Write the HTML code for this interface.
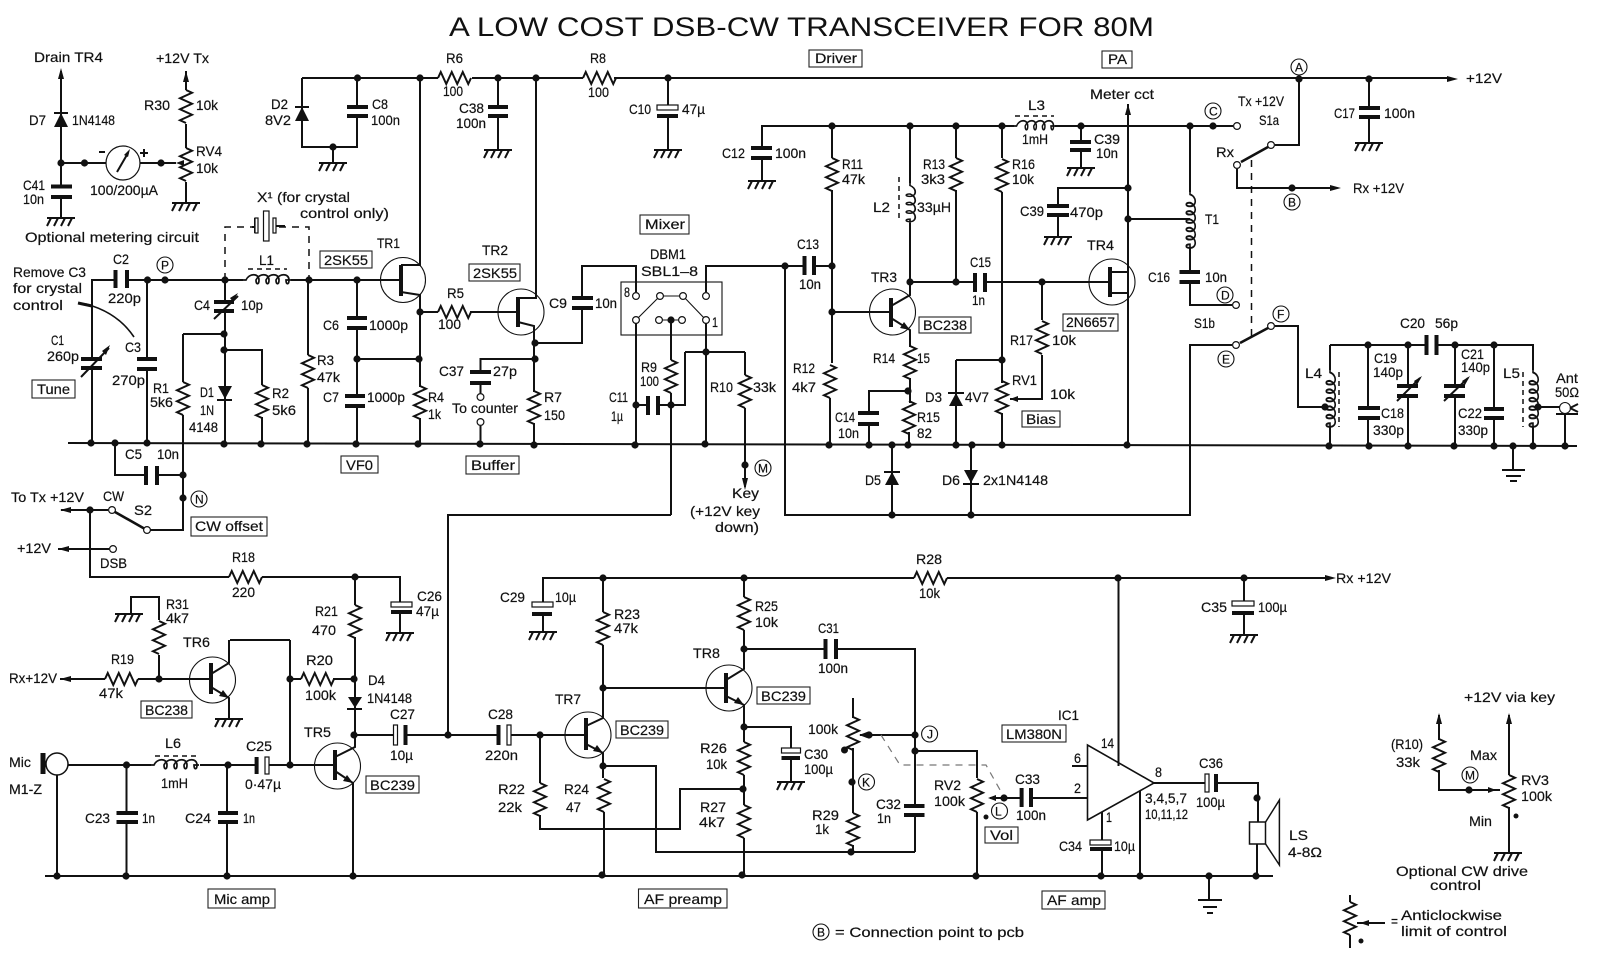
<!DOCTYPE html>
<html lang="en">
<head>
<meta charset="utf-8">
<title>A Low Cost DSB-CW Transceiver for 80M</title>
<style>
html,body{margin:0;padding:0;background:#fff}
svg{display:block;width:1600px;height:953px}
text{font-family:"Liberation Sans",sans-serif;font-size:14px;fill:#111;stroke:#111;stroke-width:.2}
.w{fill:none;stroke:#111;stroke-width:2;stroke-linejoin:miter}
.p{fill:none;stroke:#111;stroke-width:4}
.t{fill:none;stroke:#111;stroke-width:1.1}
.b{fill:#fff;stroke:#222;stroke-width:1.1}
.h{fill:#fff;stroke:#111;stroke-width:1.2}
.f{fill:#111;stroke:none}
.d{fill:none;stroke:#111;stroke-width:1.5;stroke-dasharray:7 6}
.g{fill:none;stroke:#777;stroke-width:1.2;stroke-dasharray:7 6}
.s{font-size:12px}
</style>
</head>
<body>
<svg xmlns="http://www.w3.org/2000/svg" width="1600" height="953" viewBox="0 0 1600 953">
<defs>
<path id="rv" class="w" d="M0 0l6 2.75-12 5.5 12 5.5-12 5.5 12 5.5-12 5.5 6 2.75"/>
<path id="rh" class="w" d="M0 0l2.75-6 5.5 12 5.5-12 5.5 12 5.5-12 5.5 12 2.75-6"/>
<path id="gd" class="w" d="M-14 0H14M-10 0l-4 8M-3 0l-4 8M4 0l-4 8M11 0l-4 8"/>
<circle id="n" class="f" r="3.6"/>
<circle id="o" class="h" r="3.4"/>
<circle id="lc" class="t" r="8"/>
<path id="au" class="f" d="M0 0l-3 11h6z"/>
<path id="ar" class="f" d="M0 0l-11-3v6z"/>
<path id="al" class="f" d="M0 0l11-3v6z"/>
<path id="c4" class="w" style="stroke-width:1.7" d="M0 0h3c3-7 13-7 13 0c0 5-3 5-3 0c3-7 13-7 13 0c0 5-3 5-3 0c3-7 13-7 13 0c0 5-3 5-3 0c3-7 13-7 13 0c0 5-3 5-3 0h5"/>
<path id="c6" class="w" style="stroke-width:1.6" d="M0 0h2c2-7 10-7 10 0c0 5-3 5-3 0c2-7 10-7 10 0c0 5-3 5-3 0c2-7 10-7 10 0c0 5-3 5-3 0c2-7 10-7 10 0c0 5-3 5-3 0c2-7 10-7 10 0c0 5-3 5-3 0c2-7 10-7 10 0c0 5-3 5-3 0h3"/>
</defs>

<text x="449" y="36" textLength="705" lengthAdjust="spacingAndGlyphs" style="font-size:27px;stroke:none">A LOW COST DSB-CW TRANSCEIVER FOR 80M</text>

<!-- wires -->
<path class="w" d="
M61 71V186M61 197V218M61 163H106M140 163H176M186 71V90M186 124V148M186 182V203
M302 78H438M472 78H583M614 78H1447M302 78V147H357V116M357 107V78M333 147V163
M498 78V107M498 116V150M668 78V105M668 118V150
M420 78V265H401M401 292L420 295V312M420 312H438M470 312H518M420 312V387M420 418V444
M536 78V298H518M518 322L534 326V392M534 423V445M534 343H582V308M582 298V266H636V292
M534 359H480.5V372M480.5 383V393M480.5 426V445
M92 443V368M92 359V280H115M127 280H243M291 280H401
M147 280V359M147 369V443M225 280V302M225 311V443
M183 334H225M183 334V382M183 415V530H147M225 350H262V385M262 417V443
M308 280V355M308 388V444M357 280V318M357 328V396M357 406V444M357 359H420
M115 443V475H146M157 475H183
M61 510H108M90 510V577H229M262 577H400V603M400 612V633M355 577V605M355 637V747L335 757M335 771L353 783V876
M58 549H109M151 530H183
M448 735V515H671M354 735H395M405 735H498M509 735H586M540 735V783M540 815V829H680V789H744
M586 726L603 718V645M603 612V578M586 744L603 753V778M604 812V875
M603 766H656V852H915M603 688H726
M744 578V597M744 630V669L726 680M726 696L744 705V742M744 775V805M744 838V875
M744 649H825M836 649H915V806M915 815V852M744 727H791V748M791 758V782
M853 698V718M853 748V813M853 845V852M860 735H915
M915 751H977V778M977 812V876M990 798H1021M1031 798H1087
M543 632V613M543 603V578H914M947 578H1332M1118.5 578V762M1072 766H1087M1102 812V841M1102 849V876M1140 789V876
M1154 783H1206M1216 783H1258V822M1257 844V876
M762 148V126H1014M1055 126H1233M762 158V181
M832 126V158M832 190V363M830 398V445M706 292V266H804M814 266H832M832 312H891
M785 266V515H1190V345H1232
M910 126V183M910 223V295L891 306M891 318L910 330V347M910 378V403M909 432V445M910 282H975M985 282H1110
M956 126V158M956 190V282M1002 126V158M1002 192V383M1002 413V445M956 360H1002M956 360V445
M1042 282V320M1042 355V399H1010M908 391H869V413M869 424V445M892 445V515M971 445V515
M1128 188H1058V206M1058 215V237M1081 126V142M1081 150V168M1128 104V445M1110 272H1128M1110 293H1128
M1190 126V192M1190 248V272M1190 282V305H1232M1128 219H1190
M1299 79V145H1275M1237 169V188H1337M1369 79V108M1369 117V143
M1275 326H1298V407H1325M1330 345V370M1330 427V445M1330 345H1426M1437 345H1533V370M1533 427V445
M1368 345V408M1368 418V445M1408 345V386M1408 396V445M1455 345V386M1455 396V445M1494 345V409M1494 418V445
M1513 445V470M1538 407H1560M1565 414V445
M745 352V375M745 408V487M685 352H745M685 352V405H671M706 320V445M636 320V445M636 405H648M658 405H671M671 320V360M671 393V515
M68 765H151M200 765H256M267 765H335M126.5 765V813M126.5 822V876M227 765V813M227 822V876M57 775V876
M290 640V765M230 640H290M229 640V663L211 674M211 687L229 698V719M290 679H301M333 679H354M60 679H105M138 679H211
M131 614V597H159V620M159 655V679
M1439 715V740M1439 770V790H1500M1509 715V775M1509 807V853
M1350 895V902M1350 935V948M1357 923H1385
"/>
<path class="w" d="M68 443L1577 446M45 876H1273"/>
<path class="t" d="M660 296H683L706 320M660 296L636 320M659 320H682"/>

<!-- resistors -->
<use href="#rv" x="186" y="90"/><use href="#rv" x="186" y="148"/>
<use href="#rh" x="438" y="78"/><use href="#rh" x="583" y="78"/><use href="#rh" x="438" y="312"/>
<use href="#rv" x="183" y="382"/><use href="#rv" x="262" y="385"/><use href="#rv" x="308" y="355"/><use href="#rv" x="420" y="386"/>
<use href="#rv" x="534" y="391"/><use href="#rv" x="671" y="360"/><use href="#rv" x="745" y="375"/>
<use href="#rv" x="832" y="158"/><use href="#rv" x="956" y="158"/><use href="#rv" x="1002" y="159"/>
<use href="#rv" x="830" y="365"/><use href="#rv" x="910" y="346"/><use href="#rv" x="909" y="401"/><use href="#rv" x="1042" y="321"/><use href="#rv" x="1002" y="381"/>
<use href="#rh" x="229" y="577"/><use href="#rh" x="914" y="578"/><use href="#rh" x="105" y="679"/><use href="#rh" x="301" y="679"/>
<use href="#rv" x="159" y="621"/><use href="#rv" x="355" y="605"/><use href="#rv" x="603" y="612"/><use href="#rv" x="744" y="597"/>
<use href="#rv" x="540" y="783"/><use href="#rv" x="604" y="779"/><use href="#rv" x="744" y="742"/><use href="#rv" x="744" y="805"/>
<use href="#rv" x="853" y="717"/><use href="#rv" x="853" y="813"/><use href="#rv" x="977" y="779"/>
<use href="#rv" x="1439" y="739"/><use href="#rv" x="1509" y="775"/><use href="#rv" x="1350" y="902"/>

<!-- grounds -->
<use href="#gd" x="61" y="218"/><use href="#gd" x="186" y="203"/><use href="#gd" x="333" y="163"/><use href="#gd" x="498" y="150"/><use href="#gd" x="668" y="150"/>
<use href="#gd" x="762" y="181"/><use href="#gd" x="1058" y="237"/><use href="#gd" x="1081" y="168"/><use href="#gd" x="1369" y="143"/>
<use href="#gd" x="129" y="614"/><use href="#gd" x="400" y="633"/><use href="#gd" x="229" y="719"/><use href="#gd" x="543" y="632"/><use href="#gd" x="791" y="782"/><use href="#gd" x="1244" y="635"/><use href="#gd" x="1508" y="853"/>
<path class="w" d="M1244 578V603M1244 613V635"/>
<path class="w" d="M1502 470H1525M1506 476H1521M1510 481H1517M1198 900H1222M1203 907H1217M1207 913H1213M1209 876V900"/>

<!-- capacitors -->
<path class="p" d="M51 186.500H72M51 197H72M347 107H368M347 116H368M488 107H508M488 116H508M751 148H772M751 158H772M1070 142H1091M1070 150H1091M1047 206H1069M1047 215H1069M1359 108H1380M1359 117H1380
M115.500 270V288M127 270V288M81 359H102M81 368H102M137 359H157M137 369H157M214 302H234M214 311H234M347 318H367M347 328H367M345 396H365M345 406H365
M146 466V485M157 466V485M572 298H593M572 308H593M470 372H491M470 383H491M648 396V415M658 396V415M804.500 256V275M814 256V275M975 273V292M985 273V292M858 413H879M858 424H879M1179.500 272H1200M1179.500 282H1200
M1358 408H1380M1358 418H1380M1397 386H1418M1397 396H1418M1426.500 335V355M1436.500 335V355M1444 386H1465M1444 396H1465M1484 409H1504M1484 418H1504
M116.500 813H138M116.500 822H138M218 813H238M218 822H238M498.500 725V745M825.500 639V659M836 639V659M904 806H924.500M904 815H924.500M1021.600 788V807M1031 788V807
M657 116H678M532 614H552M391 612H412M256.600 757V774M405.500 725V745M781.500 758H800M1232 613H1254M1090 849H1112M1216 774V792"/>
<rect class="h" x="657" y="105" width="21" height="5"/><rect class="h" x="532" y="602" width="21" height="5"/><rect class="h" x="391" y="602" width="21" height="5"/>
<rect class="h" x="265" y="757" width="4" height="17"/><rect class="h" x="393.500" y="725" width="4" height="20"/><rect class="h" x="507" y="725" width="4" height="20"/><path class="p" d="M498.500 725V745"/>
<rect class="h" x="781.500" y="748" width="19" height="5"/><rect class="h" x="1232" y="601" width="22" height="5"/><rect class="h" x="1090" y="840" width="21" height="5"/><rect class="h" x="1205" y="774" width="4" height="18"/>

<!-- variable arrows -->
<path class="w" d="M81 377L109 348M214 319L238 296M1397 401L1420 378M1444 401L1468 378"/>
<path class="f" d="M110 345l-8 6 4 4zM238 293l-8 5 3 4zM1422 376l-8 5 3 4zM1470 376l-8 5 3 4z"/>
<path class="w" style="stroke-width:1.6" d="M86 304C108 310 124 322 134 337"/>
<path class="p" style="stroke-width:3" d="M78 303L92 306"/>

<!-- diodes -->
<path class="f" d="M61 113l-7 14h14zM302 107l-7 14h14zM225 399l-7-13h14zM956 393l-7 13h14zM892 472l-7 13h14zM971 483l-7-13h14zM355 708l-7-11h14z"/>
<path class="w" d="M54 113H68M295 107H309M217 400H232M948 393H964M884 472H900M963 484H979M347 709H362"/>

<!-- meter -->
<circle class="h" cx="123" cy="163" r="17"/>
<path class="w" d="M117 172L128 153"/><path class="f" d="M130 149l-6 6 4 2z"/>
<path class="w" d="M99 152H105M140 153h8M144 149v8"/>
<!-- crystal -->
<path class="d" d="M225 280V227H252M279 227H309V280"/>
<rect class="h" x="263.500" y="211" width="5.500" height="30"/>
<path class="w" d="M255 218V233M275 218V233M275 226H285M252 227H255"/>
<rect class="h" x="255" y="218" width="3" height="15"/><rect class="h" x="273" y="218" width="3" height="15"/>
<!-- inductors -->
<use href="#c4" transform="translate(243 280)"/>
<use href="#c4" transform="translate(1014 126) scale(.86 1)"/>
<use href="#c4" transform="translate(151 765)"/>
<use href="#c4" transform="translate(910 183) rotate(90) scale(.84 1)"/>
<use href="#c6" transform="translate(1190 192) rotate(90) scale(1.19 1)"/>
<use href="#c6" transform="translate(1330 370) rotate(90) scale(1.21 1)"/>
<use href="#c6" transform="translate(1533 370) rotate(90) scale(1.21 1)"/>
<path class="d" style="stroke-dasharray:5 4" d="M248 269H287M1015 116H1054M155 756H198M899 177V222M1339 372V427M1523 372V427"/>

<!-- transistors -->
<circle class="t" cx="403" cy="280" r="22.500"/><circle class="t" cx="521" cy="312" r="23"/><circle class="t" cx="892.500" cy="312" r="23"/><circle class="t" cx="1112" cy="282" r="23"/>
<circle class="t" cx="212.500" cy="680" r="23"/><circle class="t" cx="337.500" cy="766" r="23"/><circle class="t" cx="588" cy="735" r="23"/><circle class="t" cx="729" cy="688" r="23"/>
<path class="p" d="M401 265V296M518 297V327M891 298V327M1110 267V297M211 663V694M335 750V780M586 718V750M726 673V703"/>
<path class="f" d="M910 330l-10-2 4-6zM229 698l-10-2 4-6zM353 783l-10-2 4-6zM603 753l-10-2 4-6zM744 705l-10-2 4-6z"/>

<!-- mixer -->
<rect class="t" x="621" y="282" width="101" height="53"/>
<use href="#o" x="636" y="296"/><use href="#o" x="706" y="296"/><use href="#o" x="660" y="296"/><use href="#o" x="683" y="296"/><use href="#o" x="636" y="320"/><use href="#o" x="659" y="320"/><use href="#o" x="682" y="320"/><use href="#o" x="706" y="320"/>

<!-- switches -->
<path class="w" style="stroke-width:2.6" d="M1241 162L1268 147M1240 343L1268 328M115 512L145 529"/>
<path class="d" d="M1251.500 160V338"/>
<use href="#o" x="1237" y="126"/><use href="#o" x="1271" y="145"/><use href="#o" x="1237" y="165"/><use href="#o" x="1236" y="305"/><use href="#o" x="1236" y="345"/><use href="#o" x="1271" y="326"/>
<use href="#o" x="112" y="510"/><use href="#o" x="147" y="530"/><use href="#o" x="113" y="549"/><use href="#o" x="480.500" y="397"/><use href="#o" x="480.500" y="422"/>

<!-- volume dashed link -->
<path class="g" d="M881 735L900 765H986L1004 797"/>

<!-- IC and speaker -->
<path class="h" style="stroke-width:1.6" d="M1087.500 745V820L1154 783Z"/>
<path class="w" d="M1118.500 762V766"/>
<rect class="h" style="stroke-width:1.5" x="1249.500" y="822" width="16" height="22"/>
<path class="w" style="stroke-width:1.5" d="M1265.600 822L1279.400 800V865L1265.600 844"/>
<!-- mic, antenna -->
<circle class="h" style="stroke-width:1.5" cx="57" cy="764" r="11"/>
<path class="p" style="stroke-width:5" d="M43 753V774"/>
<circle class="t" cx="1565" cy="408" r="5.500"/>
<path class="w" d="M1556 414H1578M1570 408L1578 404M1570 408L1578 412"/>

<!-- arrowheads -->
<use href="#au" x="61" y="68"/><use href="#au" x="186" y="71"/><use href="#au" x="1128" y="104"/><use href="#au" x="1439" y="713"/><use href="#au" x="1509" y="713"/>
<use href="#ar" x="1458" y="79"/><use href="#ar" x="1341" y="188"/><use href="#ar" x="1336" y="578"/>
<use href="#al" x="60" y="510"/><use href="#al" x="58" y="549"/><use href="#al" x="60" y="679"/>
<path class="f" d="M745 490l-3-12h6zM176 163l8-3v6zM1010 399l8-3v6zM859 735l8-3v6zM988 798l8-3v6zM1496 790l-8-3v6zM1360 923l9-3v6z"/>
<circle class="f" cx="844.500" cy="750" r="3.500"/><circle class="f" cx="986" cy="817" r="2.500"/><circle class="f" cx="1516" cy="816" r="2.500"/><circle class="f" cx="1361" cy="941" r="2.500"/>

<!-- nodes -->
<g>
<use href="#n" x="61" y="163"/><use href="#n" x="84.500" y="163"/><use href="#n" x="161" y="163"/><use href="#n" x="357.500" y="78"/><use href="#n" x="420" y="78"/><use href="#n" x="498" y="78"/><use href="#n" x="536" y="78"/><use href="#n" x="668" y="78"/><use href="#n" x="333" y="147"/>
<use href="#n" x="147.500" y="280"/><use href="#n" x="165" y="280"/><use href="#n" x="225" y="280"/><use href="#n" x="309" y="280"/><use href="#n" x="357" y="280"/><use href="#n" x="420" y="312"/>
<use href="#n" x="224" y="334"/><use href="#n" x="224" y="350"/><use href="#n" x="357" y="359"/><use href="#n" x="419" y="359"/><use href="#n" x="535" y="343"/><use href="#n" x="535" y="359"/>
<use href="#n" x="91" y="443"/><use href="#n" x="115" y="443"/><use href="#n" x="147" y="443"/><use href="#n" x="224" y="444"/><use href="#n" x="261" y="444"/><use href="#n" x="307" y="444"/><use href="#n" x="356" y="444"/><use href="#n" x="418" y="444"/><use href="#n" x="480" y="444"/><use href="#n" x="534" y="445"/><use href="#n" x="635" y="445"/><use href="#n" x="705" y="444"/><use href="#n" x="829" y="445"/><use href="#n" x="869" y="445"/><use href="#n" x="892" y="445"/><use href="#n" x="908" y="445"/><use href="#n" x="956" y="445"/><use href="#n" x="972" y="445"/><use href="#n" x="1002" y="445"/><use href="#n" x="1127" y="445"/>
<use href="#n" x="1329" y="446"/><use href="#n" x="1369" y="446"/><use href="#n" x="1408" y="446"/><use href="#n" x="1454" y="446"/><use href="#n" x="1494" y="446"/><use href="#n" x="1513" y="446"/><use href="#n" x="1533" y="446"/><use href="#n" x="1565" y="446"/>
<use href="#n" x="183" y="475"/><use href="#n" x="183" y="498"/><use href="#n" x="90" y="510"/><use href="#n" x="355" y="577"/>
<use href="#n" x="636" y="405"/><use href="#n" x="671" y="405"/><use href="#n" x="671" y="320"/><use href="#n" x="745" y="465"/><use href="#n" x="892" y="515"/><use href="#n" x="971" y="515"/><use href="#n" x="706" y="352"/>
<use href="#n" x="785" y="266"/><use href="#n" x="832" y="266"/><use href="#n" x="832" y="126"/><use href="#n" x="910" y="126"/><use href="#n" x="956" y="126"/><use href="#n" x="1002" y="126"/><use href="#n" x="1081" y="126"/><use href="#n" x="1190" y="126"/><use href="#n" x="1213" y="126"/>
<use href="#n" x="832" y="312"/><use href="#n" x="910" y="282"/><use href="#n" x="956" y="282"/><use href="#n" x="1042" y="282"/><use href="#n" x="1002" y="360"/><use href="#n" x="908" y="391"/>
<use href="#n" x="1128" y="188"/><use href="#n" x="1128" y="219"/><use href="#n" x="1299" y="79"/><use href="#n" x="1369" y="79"/><use href="#n" x="1292" y="188"/>
<use href="#n" x="1368" y="345"/><use href="#n" x="1408" y="345"/><use href="#n" x="1455" y="345"/><use href="#n" x="1494" y="345"/><use href="#n" x="1325" y="407"/><use href="#n" x="1538" y="407"/>
<use href="#n" x="603" y="578"/><use href="#n" x="744" y="578"/><use href="#n" x="1118" y="578"/><use href="#n" x="1244" y="578"/>
<use href="#n" x="159" y="679"/><use href="#n" x="290" y="679"/><use href="#n" x="354" y="679"/><use href="#n" x="354" y="735"/><use href="#n" x="448" y="735"/><use href="#n" x="540" y="735"/><use href="#n" x="126.500" y="765"/><use href="#n" x="228" y="765"/><use href="#n" x="290" y="765"/>
<use href="#n" x="603" y="688"/><use href="#n" x="603" y="766"/><use href="#n" x="744" y="649"/><use href="#n" x="744" y="727"/><use href="#n" x="743" y="789"/><use href="#n" x="852" y="782"/><use href="#n" x="851" y="852"/><use href="#n" x="915" y="735"/><use href="#n" x="915" y="751"/><use href="#n" x="869" y="735"/><use href="#n" x="1004" y="798"/>
<use href="#n" x="57" y="876"/><use href="#n" x="126" y="876"/><use href="#n" x="227" y="876"/><use href="#n" x="353" y="876"/><use href="#n" x="602" y="875"/><use href="#n" x="742" y="875"/><use href="#n" x="976" y="876"/><use href="#n" x="1101" y="876"/><use href="#n" x="1140" y="876"/><use href="#n" x="1209" y="876"/><use href="#n" x="1256" y="876"/>
<use href="#n" x="1257" y="798"/><use href="#n" x="1469" y="790"/>
</g>

<!-- connection letters -->
<use href="#lc" x="165" y="265"/><text class="s" x="161" y="269.500">P</text>
<use href="#lc" x="1299" y="67"/><text class="s" x="1295" y="71.500">A</text>
<use href="#lc" x="1292" y="202"/><text class="s" x="1288" y="206.500">B</text>
<use href="#lc" x="1213" y="111"/><text class="s" x="1209" y="115.500">C</text>
<use href="#lc" x="1225" y="295"/><text class="s" x="1221" y="299.500">D</text>
<use href="#lc" x="1226" y="359"/><text class="s" x="1222" y="363.500">E</text>
<use href="#lc" x="1281" y="314"/><text class="s" x="1277" y="318.500">F</text>
<use href="#lc" x="199" y="499"/><text class="s" x="195" y="503.500">N</text>
<use href="#lc" x="763" y="468"/><text class="s" x="758" y="472.500">M</text>
<use href="#lc" x="929.600" y="734"/><text class="s" x="927" y="738.500">J</text>
<use href="#lc" x="866.500" y="782"/><text class="s" x="862" y="786.500">K</text>
<use href="#lc" x="999.500" y="811"/><text class="s" x="995" y="815.500">L</text>
<use href="#lc" x="1470" y="775"/><text class="s" x="1465" y="779.500">M</text>
<use href="#lc" x="821" y="932"/><text class="s" x="817" y="936.500">B</text>

<!-- boxed labels -->
<rect class="b" x="809" y="50" width="53" height="17"/><text x="815" y="63" textLength="42" lengthAdjust="spacingAndGlyphs">Driver</text>
<rect class="b" x="1102" y="51" width="30" height="17"/><text x="1108" y="64" textLength="19" lengthAdjust="spacingAndGlyphs">PA</text>
<rect class="b" x="640" y="215" width="49" height="19"/><text x="645" y="229" textLength="40" lengthAdjust="spacingAndGlyphs">Mixer</text>
<rect class="b" x="320" y="251" width="52" height="17"/><text x="324" y="265" textLength="44" lengthAdjust="spacingAndGlyphs">2SK55</text>
<rect class="b" x="469" y="264" width="51" height="17"/><text x="473" y="278" textLength="44" lengthAdjust="spacingAndGlyphs">2SK55</text>
<rect class="b" x="32" y="380" width="43" height="18"/><text x="37" y="394" textLength="33" lengthAdjust="spacingAndGlyphs">Tune</text>
<rect class="b" x="341" y="456" width="37" height="17"/><text x="346" y="470" textLength="27" lengthAdjust="spacingAndGlyphs">VF0</text>
<rect class="b" x="466" y="456" width="53" height="18"/><text x="471" y="470" textLength="44" lengthAdjust="spacingAndGlyphs">Buffer</text>
<rect class="b" x="191" y="517" width="76" height="19"/><text x="195" y="531" textLength="68" lengthAdjust="spacingAndGlyphs">CW offset</text>
<rect class="b" x="919" y="317" width="52" height="16"/><text x="923" y="330" textLength="44" lengthAdjust="spacingAndGlyphs">BC238</text>
<rect class="b" x="1063" y="314" width="55" height="17"/><text x="1066" y="327" textLength="49" lengthAdjust="spacingAndGlyphs">2N6657</text>
<rect class="b" x="1022" y="411" width="38" height="16"/><text x="1026" y="424" textLength="30" lengthAdjust="spacingAndGlyphs">Bias</text>
<rect class="b" x="141" y="701" width="51" height="17"/><text x="145" y="715" textLength="43" lengthAdjust="spacingAndGlyphs">BC238</text>
<rect class="b" x="366" y="776" width="53" height="17"/><text x="370" y="790" textLength="45" lengthAdjust="spacingAndGlyphs">BC239</text>
<rect class="b" x="616" y="721" width="52" height="17"/><text x="620" y="735" textLength="44" lengthAdjust="spacingAndGlyphs">BC239</text>
<rect class="b" x="757" y="687" width="53" height="17"/><text x="761" y="701" textLength="45" lengthAdjust="spacingAndGlyphs">BC239</text>
<rect class="b" x="1002" y="725" width="64" height="17"/><text x="1006" y="739" textLength="56" lengthAdjust="spacingAndGlyphs">LM380N</text>
<rect class="b" x="985" y="827" width="33" height="16"/><text x="990" y="840" textLength="23" lengthAdjust="spacingAndGlyphs">Vol</text>
<rect class="b" x="208" y="889" width="67" height="19"/><text x="214" y="904" textLength="56" lengthAdjust="spacingAndGlyphs">Mic amp</text>
<rect class="b" x="638.500" y="889" width="88.500" height="19"/><text x="644" y="904" textLength="78" lengthAdjust="spacingAndGlyphs">AF preamp</text>
<rect class="b" x="1042" y="891" width="63" height="18"/><text x="1047" y="905" textLength="54" lengthAdjust="spacingAndGlyphs">AF amp</text>

<!-- labels -->
<g>
<text x="34" y="62" textLength="69" lengthAdjust="spacingAndGlyphs">Drain TR4</text><text x="156" y="63" textLength="53" lengthAdjust="spacingAndGlyphs">+12V Tx</text>
<text x="144" y="110" textLength="26" lengthAdjust="spacingAndGlyphs">R30</text><text x="196" y="110" textLength="22" lengthAdjust="spacingAndGlyphs">10k</text><text x="196" y="156" textLength="26" lengthAdjust="spacingAndGlyphs">RV4</text><text x="196" y="173" textLength="22" lengthAdjust="spacingAndGlyphs">10k</text>
<text x="29" y="125" textLength="17" lengthAdjust="spacingAndGlyphs">D7</text><text x="72" y="125" textLength="43" lengthAdjust="spacingAndGlyphs">1N4148</text><text x="23" y="190" textLength="22" lengthAdjust="spacingAndGlyphs">C41</text><text x="23" y="204" textLength="21" lengthAdjust="spacingAndGlyphs">10n</text>
<text x="90" y="195" textLength="68" lengthAdjust="spacingAndGlyphs">100/200µA</text><text x="25" y="242" textLength="174" lengthAdjust="spacingAndGlyphs">Optional metering circuit</text>
<text x="257" y="202" textLength="93" lengthAdjust="spacingAndGlyphs">X¹ (for crystal</text><text x="300" y="218" textLength="89" lengthAdjust="spacingAndGlyphs">control only)</text>
<text x="113" y="264" textLength="16" lengthAdjust="spacingAndGlyphs">C2</text><text x="108" y="303" textLength="33" lengthAdjust="spacingAndGlyphs">220p</text><text x="259" y="265" textLength="15" lengthAdjust="spacingAndGlyphs">L1</text>
<text x="13" y="277" textLength="73" lengthAdjust="spacingAndGlyphs">Remove C3</text><text x="13" y="293" textLength="69" lengthAdjust="spacingAndGlyphs">for crystal</text><text x="13" y="310" textLength="50" lengthAdjust="spacingAndGlyphs">control</text>
<text x="194" y="310" textLength="16" lengthAdjust="spacingAndGlyphs">C4</text><text x="241" y="310" textLength="22" lengthAdjust="spacingAndGlyphs">10p</text><text x="377" y="248" textLength="23" lengthAdjust="spacingAndGlyphs">TR1</text><text x="482" y="255" textLength="26" lengthAdjust="spacingAndGlyphs">TR2</text><text x="447" y="298" textLength="17" lengthAdjust="spacingAndGlyphs">R5</text>
<text x="438" y="329" textLength="23" lengthAdjust="spacingAndGlyphs">100</text><text x="446" y="63" textLength="17" lengthAdjust="spacingAndGlyphs">R6</text><text x="443" y="96" textLength="20" lengthAdjust="spacingAndGlyphs">100</text>
<text x="271" y="109" textLength="17" lengthAdjust="spacingAndGlyphs">D2</text><text x="265" y="125" textLength="26" lengthAdjust="spacingAndGlyphs">8V2</text><text x="372" y="109" textLength="16" lengthAdjust="spacingAndGlyphs">C8</text><text x="371" y="125" textLength="29" lengthAdjust="spacingAndGlyphs">100n</text><text x="459" y="113" textLength="25" lengthAdjust="spacingAndGlyphs">C38</text><text x="456" y="128" textLength="30" lengthAdjust="spacingAndGlyphs">100n</text>
<text x="590" y="63" textLength="16" lengthAdjust="spacingAndGlyphs">R8</text><text x="588" y="97" textLength="21" lengthAdjust="spacingAndGlyphs">100</text><text x="629" y="114" textLength="22" lengthAdjust="spacingAndGlyphs">C10</text><text x="682" y="114" textLength="23" lengthAdjust="spacingAndGlyphs">47µ</text>
<text x="722" y="158" textLength="23" lengthAdjust="spacingAndGlyphs">C12</text><text x="775" y="158" textLength="31" lengthAdjust="spacingAndGlyphs">100n</text><text x="842" y="169" textLength="21" lengthAdjust="spacingAndGlyphs">R11</text><text x="842" y="184" textLength="23" lengthAdjust="spacingAndGlyphs">47k</text>
<text x="873" y="212" textLength="17" lengthAdjust="spacingAndGlyphs">L2</text><text x="917" y="212" textLength="34" lengthAdjust="spacingAndGlyphs">33µH</text><text x="923" y="169" textLength="22" lengthAdjust="spacingAndGlyphs">R13</text><text x="921" y="184" textLength="24" lengthAdjust="spacingAndGlyphs">3k3</text><text x="1012" y="169" textLength="23" lengthAdjust="spacingAndGlyphs">R16</text><text x="1012" y="184" textLength="22" lengthAdjust="spacingAndGlyphs">10k</text>
<text x="1028" y="110" textLength="17" lengthAdjust="spacingAndGlyphs">L3</text><text x="1022" y="144" textLength="26" lengthAdjust="spacingAndGlyphs">1mH</text><text x="1020" y="216" textLength="24" lengthAdjust="spacingAndGlyphs">C39</text><text x="1070" y="217" textLength="33" lengthAdjust="spacingAndGlyphs">470p</text>
<text x="650" y="259" textLength="36" lengthAdjust="spacingAndGlyphs">DBM1</text><text x="641" y="276" textLength="57" lengthAdjust="spacingAndGlyphs">SBL1–8</text><text x="624" y="297" textLength="6" lengthAdjust="spacingAndGlyphs">8</text><text x="712" y="327" textLength="6" lengthAdjust="spacingAndGlyphs">1</text>
<text x="797" y="249" textLength="22" lengthAdjust="spacingAndGlyphs">C13</text><text x="799" y="289" textLength="22" lengthAdjust="spacingAndGlyphs">10n</text><text x="871" y="282" textLength="26" lengthAdjust="spacingAndGlyphs">TR3</text><text x="970" y="267" textLength="21" lengthAdjust="spacingAndGlyphs">C15</text><text x="972" y="305" textLength="13" lengthAdjust="spacingAndGlyphs">1n</text>
<text x="1090" y="99" textLength="64" lengthAdjust="spacingAndGlyphs">Meter cct</text><text x="1094" y="144" textLength="26" lengthAdjust="spacingAndGlyphs">C39</text><text x="1096" y="158" textLength="22" lengthAdjust="spacingAndGlyphs">10n</text><text x="1087" y="250" textLength="27" lengthAdjust="spacingAndGlyphs">TR4</text>
<text x="1334" y="118" textLength="21" lengthAdjust="spacingAndGlyphs">C17</text><text x="1384" y="118" textLength="31" lengthAdjust="spacingAndGlyphs">100n</text><text x="1466" y="83" textLength="36" lengthAdjust="spacingAndGlyphs">+12V</text>
<text x="1238" y="106" textLength="46" lengthAdjust="spacingAndGlyphs">Tx +12V</text><text x="1259" y="125" textLength="20" lengthAdjust="spacingAndGlyphs">S1a</text><text x="1216" y="157" textLength="18" lengthAdjust="spacingAndGlyphs">Rx</text><text x="1353" y="193" textLength="51" lengthAdjust="spacingAndGlyphs">Rx +12V</text>
<text x="1205" y="224" textLength="14" lengthAdjust="spacingAndGlyphs">T1</text><text x="1148" y="282" textLength="22" lengthAdjust="spacingAndGlyphs">C16</text><text x="1205" y="282" textLength="22" lengthAdjust="spacingAndGlyphs">10n</text><text x="1194" y="328" textLength="21" lengthAdjust="spacingAndGlyphs">S1b</text>
<text x="1400" y="328" textLength="25" lengthAdjust="spacingAndGlyphs">C20</text><text x="1435" y="328" textLength="23" lengthAdjust="spacingAndGlyphs">56p</text><text x="1305" y="378" textLength="17" lengthAdjust="spacingAndGlyphs">L4</text><text x="1503" y="378" textLength="17" lengthAdjust="spacingAndGlyphs">L5</text>
<text x="1374" y="363" textLength="23" lengthAdjust="spacingAndGlyphs">C19</text><text x="1373" y="377" textLength="30" lengthAdjust="spacingAndGlyphs">140p</text><text x="1461" y="359" textLength="23" lengthAdjust="spacingAndGlyphs">C21</text><text x="1461" y="372" textLength="29" lengthAdjust="spacingAndGlyphs">140p</text>
<text x="1381" y="418" textLength="23" lengthAdjust="spacingAndGlyphs">C18</text><text x="1373" y="435" textLength="31" lengthAdjust="spacingAndGlyphs">330p</text><text x="1458" y="418" textLength="24" lengthAdjust="spacingAndGlyphs">C22</text><text x="1458" y="435" textLength="30" lengthAdjust="spacingAndGlyphs">330p</text>
<text x="1556" y="383" textLength="22" lengthAdjust="spacingAndGlyphs">Ant</text><text x="1555" y="397" textLength="24" lengthAdjust="spacingAndGlyphs">50Ω</text>
<text x="51" y="345" textLength="13" lengthAdjust="spacingAndGlyphs">C1</text><text x="47" y="361" textLength="32" lengthAdjust="spacingAndGlyphs">260p</text><text x="125" y="352" textLength="16" lengthAdjust="spacingAndGlyphs">C3</text><text x="112" y="385" textLength="33" lengthAdjust="spacingAndGlyphs">270p</text>
<text x="125" y="459" textLength="17" lengthAdjust="spacingAndGlyphs">C5</text><text x="157" y="459" textLength="22" lengthAdjust="spacingAndGlyphs">10n</text><text x="153" y="393" textLength="16" lengthAdjust="spacingAndGlyphs">R1</text><text x="150" y="407" textLength="23" lengthAdjust="spacingAndGlyphs">5k6</text>
<text x="200" y="397" textLength="14" lengthAdjust="spacingAndGlyphs">D1</text><text x="200" y="415" textLength="14" lengthAdjust="spacingAndGlyphs">1N</text><text x="189" y="432" textLength="29" lengthAdjust="spacingAndGlyphs">4148</text><text x="272" y="398" textLength="17" lengthAdjust="spacingAndGlyphs">R2</text><text x="272" y="415" textLength="24" lengthAdjust="spacingAndGlyphs">5k6</text>
<text x="317" y="365" textLength="17" lengthAdjust="spacingAndGlyphs">R3</text><text x="317" y="382" textLength="23" lengthAdjust="spacingAndGlyphs">47k</text><text x="323" y="330" textLength="16" lengthAdjust="spacingAndGlyphs">C6</text><text x="369" y="330" textLength="39" lengthAdjust="spacingAndGlyphs">1000p</text><text x="323" y="402" textLength="16" lengthAdjust="spacingAndGlyphs">C7</text><text x="367" y="402" textLength="38" lengthAdjust="spacingAndGlyphs">1000p</text>
<text x="428" y="402" textLength="16" lengthAdjust="spacingAndGlyphs">R4</text><text x="428" y="419" textLength="13" lengthAdjust="spacingAndGlyphs">1k</text><text x="439" y="376" textLength="25" lengthAdjust="spacingAndGlyphs">C37</text><text x="493" y="376" textLength="24" lengthAdjust="spacingAndGlyphs">27p</text><text x="452" y="413" textLength="66" lengthAdjust="spacingAndGlyphs">To counter</text>
<text x="544" y="402" textLength="18" lengthAdjust="spacingAndGlyphs">R7</text><text x="544" y="420" textLength="21" lengthAdjust="spacingAndGlyphs">150</text>
<text x="549" y="308" textLength="18" lengthAdjust="spacingAndGlyphs">C9</text><text x="595" y="308" textLength="22" lengthAdjust="spacingAndGlyphs">10n</text>
<text x="609" y="402" textLength="19" lengthAdjust="spacingAndGlyphs">C11</text><text x="611" y="421" textLength="12" lengthAdjust="spacingAndGlyphs">1µ</text><text x="641" y="372" textLength="16" lengthAdjust="spacingAndGlyphs">R9</text><text x="640" y="386" textLength="19" lengthAdjust="spacingAndGlyphs">100</text><text x="710" y="392" textLength="23" lengthAdjust="spacingAndGlyphs">R10</text><text x="753" y="392" textLength="23" lengthAdjust="spacingAndGlyphs">33k</text>
<text x="732" y="498" textLength="27" lengthAdjust="spacingAndGlyphs">Key</text><text x="690" y="516" textLength="70" lengthAdjust="spacingAndGlyphs">(+12V key</text><text x="715" y="532" textLength="44" lengthAdjust="spacingAndGlyphs">down)</text>
<text x="793" y="373" textLength="22" lengthAdjust="spacingAndGlyphs">R12</text><text x="792" y="392" textLength="24" lengthAdjust="spacingAndGlyphs">4k7</text><text x="873" y="363" textLength="22" lengthAdjust="spacingAndGlyphs">R14</text><text x="917" y="363" textLength="13" lengthAdjust="spacingAndGlyphs">15</text><text x="917" y="422" textLength="23" lengthAdjust="spacingAndGlyphs">R15</text><text x="917" y="438" textLength="15" lengthAdjust="spacingAndGlyphs">82</text>
<text x="835" y="422" textLength="20" lengthAdjust="spacingAndGlyphs">C14</text><text x="838" y="438" textLength="21" lengthAdjust="spacingAndGlyphs">10n</text><text x="925" y="402" textLength="17" lengthAdjust="spacingAndGlyphs">D3</text><text x="965" y="402" textLength="24" lengthAdjust="spacingAndGlyphs">4V7</text><text x="1010" y="345" textLength="23" lengthAdjust="spacingAndGlyphs">R17</text><text x="1052" y="345" textLength="24" lengthAdjust="spacingAndGlyphs">10k</text><text x="1012" y="385" textLength="25" lengthAdjust="spacingAndGlyphs">RV1</text><text x="1050" y="399" textLength="25" lengthAdjust="spacingAndGlyphs">10k</text>
<text x="865" y="485" textLength="16" lengthAdjust="spacingAndGlyphs">D5</text><text x="942" y="485" textLength="18" lengthAdjust="spacingAndGlyphs">D6</text><text x="983" y="485" textLength="65" lengthAdjust="spacingAndGlyphs">2x1N4148</text>
<text x="11" y="502" textLength="73" lengthAdjust="spacingAndGlyphs">To Tx +12V</text><text x="103" y="501" textLength="21" lengthAdjust="spacingAndGlyphs">CW</text><text x="134" y="515" textLength="18" lengthAdjust="spacingAndGlyphs">S2</text><text x="17" y="553" textLength="34" lengthAdjust="spacingAndGlyphs">+12V</text><text x="100" y="568" textLength="27" lengthAdjust="spacingAndGlyphs">DSB</text>
<text x="232" y="562" textLength="23" lengthAdjust="spacingAndGlyphs">R18</text><text x="232" y="597" textLength="23" lengthAdjust="spacingAndGlyphs">220</text><text x="417" y="601" textLength="25" lengthAdjust="spacingAndGlyphs">C26</text><text x="416" y="616" textLength="23" lengthAdjust="spacingAndGlyphs">47µ</text>
<text x="315" y="616" textLength="23" lengthAdjust="spacingAndGlyphs">R21</text><text x="312" y="635" textLength="24" lengthAdjust="spacingAndGlyphs">470</text><text x="166" y="609" textLength="23" lengthAdjust="spacingAndGlyphs">R31</text><text x="166" y="623" textLength="23" lengthAdjust="spacingAndGlyphs">4k7</text>
<text x="500" y="602" textLength="25" lengthAdjust="spacingAndGlyphs">C29</text><text x="555" y="602" textLength="21" lengthAdjust="spacingAndGlyphs">10µ</text><text x="916" y="564" textLength="26" lengthAdjust="spacingAndGlyphs">R28</text><text x="919" y="598" textLength="21" lengthAdjust="spacingAndGlyphs">10k</text><text x="614" y="619" textLength="26" lengthAdjust="spacingAndGlyphs">R23</text><text x="614" y="633" textLength="24" lengthAdjust="spacingAndGlyphs">47k</text>
<text x="755" y="611" textLength="23" lengthAdjust="spacingAndGlyphs">R25</text><text x="755" y="627" textLength="23" lengthAdjust="spacingAndGlyphs">10k</text><text x="1336" y="583" textLength="55" lengthAdjust="spacingAndGlyphs">Rx +12V</text><text x="1201" y="612" textLength="26" lengthAdjust="spacingAndGlyphs">C35</text><text x="1258" y="612" textLength="29" lengthAdjust="spacingAndGlyphs">100µ</text>
<text x="9" y="683" textLength="48" lengthAdjust="spacingAndGlyphs">Rx+12V</text><text x="111" y="664" textLength="23" lengthAdjust="spacingAndGlyphs">R19</text><text x="99" y="698" textLength="24" lengthAdjust="spacingAndGlyphs">47k</text><text x="183" y="647" textLength="27" lengthAdjust="spacingAndGlyphs">TR6</text><text x="306" y="665" textLength="27" lengthAdjust="spacingAndGlyphs">R20</text><text x="305" y="700" textLength="31" lengthAdjust="spacingAndGlyphs">100k</text>
<text x="368" y="685" textLength="17" lengthAdjust="spacingAndGlyphs">D4</text><text x="367" y="703" textLength="45" lengthAdjust="spacingAndGlyphs">1N4148</text><text x="304" y="737" textLength="27" lengthAdjust="spacingAndGlyphs">TR5</text><text x="390" y="719" textLength="25" lengthAdjust="spacingAndGlyphs">C27</text><text x="390" y="760" textLength="23" lengthAdjust="spacingAndGlyphs">10µ</text><text x="488" y="719" textLength="25" lengthAdjust="spacingAndGlyphs">C28</text><text x="485" y="760" textLength="33" lengthAdjust="spacingAndGlyphs">220n</text>
<text x="165" y="748" textLength="16" lengthAdjust="spacingAndGlyphs">L6</text><text x="161" y="788" textLength="27" lengthAdjust="spacingAndGlyphs">1mH</text><text x="246" y="751" textLength="26" lengthAdjust="spacingAndGlyphs">C25</text><text x="245" y="789" textLength="36" lengthAdjust="spacingAndGlyphs">0·47µ</text><text x="9" y="767" textLength="22" lengthAdjust="spacingAndGlyphs">Mic</text><text x="9" y="794" textLength="33" lengthAdjust="spacingAndGlyphs">M1-Z</text>
<text x="85" y="823" textLength="25" lengthAdjust="spacingAndGlyphs">C23</text><text x="142" y="823" textLength="13" lengthAdjust="spacingAndGlyphs">1n</text><text x="185" y="823" textLength="26" lengthAdjust="spacingAndGlyphs">C24</text><text x="243" y="823" textLength="12" lengthAdjust="spacingAndGlyphs">1n</text>
<text x="498" y="794" textLength="27" lengthAdjust="spacingAndGlyphs">R22</text><text x="498" y="812" textLength="24" lengthAdjust="spacingAndGlyphs">22k</text><text x="564" y="794" textLength="25" lengthAdjust="spacingAndGlyphs">R24</text><text x="566" y="812" textLength="15" lengthAdjust="spacingAndGlyphs">47</text><text x="555" y="704" textLength="26" lengthAdjust="spacingAndGlyphs">TR7</text><text x="693" y="658" textLength="27" lengthAdjust="spacingAndGlyphs">TR8</text>
<text x="818" y="633" textLength="21" lengthAdjust="spacingAndGlyphs">C31</text><text x="818" y="673" textLength="30" lengthAdjust="spacingAndGlyphs">100n</text><text x="700" y="753" textLength="27" lengthAdjust="spacingAndGlyphs">R26</text><text x="706" y="769" textLength="21" lengthAdjust="spacingAndGlyphs">10k</text><text x="700" y="812" textLength="26" lengthAdjust="spacingAndGlyphs">R27</text><text x="699" y="827" textLength="26" lengthAdjust="spacingAndGlyphs">4k7</text>
<text x="804" y="759" textLength="24" lengthAdjust="spacingAndGlyphs">C30</text><text x="804" y="774" textLength="29" lengthAdjust="spacingAndGlyphs">100µ</text><text x="808" y="734" textLength="30" lengthAdjust="spacingAndGlyphs">100k</text><text x="812" y="820" textLength="27" lengthAdjust="spacingAndGlyphs">R29</text><text x="815" y="834" textLength="14" lengthAdjust="spacingAndGlyphs">1k</text><text x="876" y="809" textLength="25" lengthAdjust="spacingAndGlyphs">C32</text><text x="877" y="823" textLength="14" lengthAdjust="spacingAndGlyphs">1n</text>
<text x="934" y="790" textLength="27" lengthAdjust="spacingAndGlyphs">RV2</text><text x="934" y="806" textLength="31" lengthAdjust="spacingAndGlyphs">100k</text><text x="1015" y="784" textLength="25" lengthAdjust="spacingAndGlyphs">C33</text><text x="1016" y="820" textLength="30" lengthAdjust="spacingAndGlyphs">100n</text><text x="1058" y="720" textLength="21" lengthAdjust="spacingAndGlyphs">IC1</text>
<text x="1074" y="763" textLength="7" lengthAdjust="spacingAndGlyphs">6</text><text x="1074" y="793" textLength="7" lengthAdjust="spacingAndGlyphs">2</text><text x="1101" y="748" textLength="13" lengthAdjust="spacingAndGlyphs">14</text><text x="1155" y="777" textLength="7" lengthAdjust="spacingAndGlyphs">8</text><text x="1106" y="822" textLength="6" lengthAdjust="spacingAndGlyphs">1</text>
<text x="1199" y="768" textLength="24" lengthAdjust="spacingAndGlyphs">C36</text><text x="1196" y="807" textLength="29" lengthAdjust="spacingAndGlyphs">100µ</text><text x="1145" y="803" textLength="42" lengthAdjust="spacingAndGlyphs">3,4,5,7</text><text x="1145" y="819" textLength="43" lengthAdjust="spacingAndGlyphs">10,11,12</text><text x="1059" y="851" textLength="23" lengthAdjust="spacingAndGlyphs">C34</text><text x="1114" y="851" textLength="21" lengthAdjust="spacingAndGlyphs">10µ</text>
<text x="1289" y="840" textLength="19" lengthAdjust="spacingAndGlyphs">LS</text><text x="1288" y="857" textLength="34" lengthAdjust="spacingAndGlyphs">4-8Ω</text>
<text x="1464" y="702" textLength="91" lengthAdjust="spacingAndGlyphs">+12V via key</text><text x="1391" y="749" textLength="32" lengthAdjust="spacingAndGlyphs">(R10)</text><text x="1396" y="767" textLength="24" lengthAdjust="spacingAndGlyphs">33k</text><text x="1470" y="760" textLength="27" lengthAdjust="spacingAndGlyphs">Max</text><text x="1521" y="785" textLength="28" lengthAdjust="spacingAndGlyphs">RV3</text><text x="1521" y="801" textLength="31" lengthAdjust="spacingAndGlyphs">100k</text><text x="1469" y="826" textLength="23" lengthAdjust="spacingAndGlyphs">Min</text>
<text x="1396" y="876" textLength="132" lengthAdjust="spacingAndGlyphs">Optional CW drive</text><text x="1430" y="890" textLength="51" lengthAdjust="spacingAndGlyphs">control</text>
<text x="1391" y="926" textLength="7" lengthAdjust="spacingAndGlyphs">=</text><text x="1401" y="920" textLength="101" lengthAdjust="spacingAndGlyphs">Anticlockwise</text><text x="1401" y="936" textLength="106" lengthAdjust="spacingAndGlyphs">limit of control</text>
<text x="835" y="937" textLength="189" lengthAdjust="spacingAndGlyphs">= Connection point to pcb</text>
</g>
</svg>
</body>
</html>
